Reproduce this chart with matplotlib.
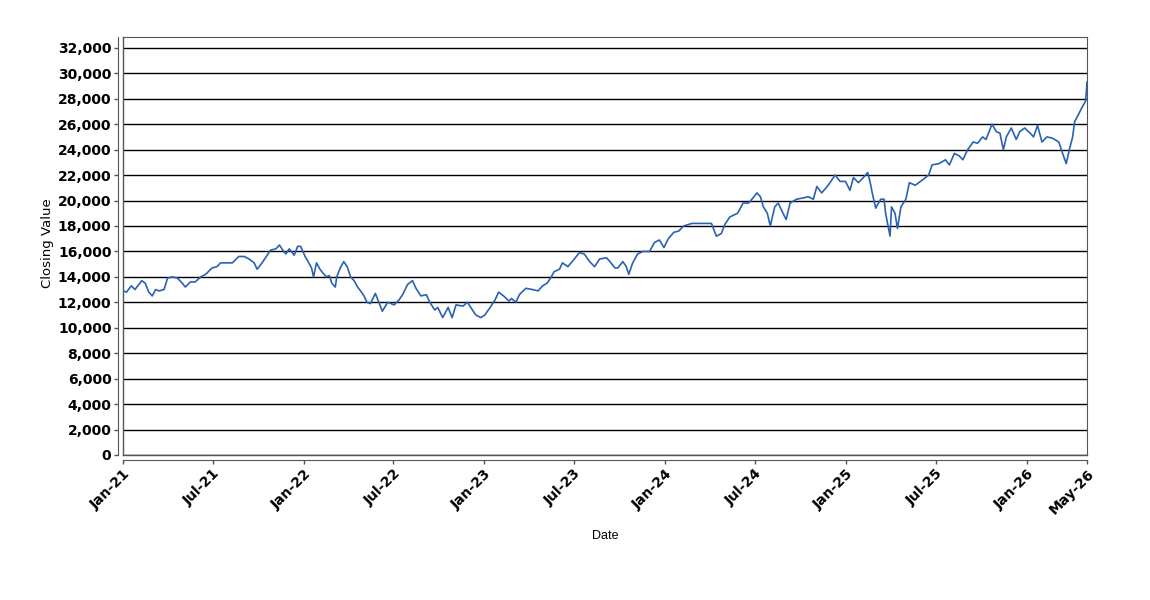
import pandas as pd
import matplotlib
matplotlib.use('Agg')
import matplotlib.pyplot as plt
import matplotlib.ticker as mticker
from matplotlib.lines import Line2D

# 데이터
dates = [
    '2021-01-01', '2021-01-08', '2021-01-18', '2021-01-25', '2021-02-08', '2021-02-15', '2021-02-22',
    '2021-03-01', '2021-03-08', '2021-03-15', '2021-03-25', '2021-04-01', '2021-04-11', '2021-04-21',
    '2021-05-01', '2021-05-07', '2021-05-17', '2021-05-27', '2021-06-07', '2021-06-17', '2021-06-30',
    '2021-07-10', '2021-07-17', '2021-07-27', '2021-08-10', '2021-08-23', '2021-09-03', '2021-09-13',
    '2021-09-23', '2021-09-29', '2021-10-09', '2021-10-16', '2021-10-26', '2021-11-06', '2021-11-13',
    '2021-11-20', '2021-11-26', '2021-12-03', '2021-12-13', '2021-12-20', '2021-12-26',
    '2022-01-04', '2022-01-10', '2022-01-17', '2022-01-21', '2022-01-27', '2022-02-03', '2022-02-09',
    '2022-02-16', '2022-02-22', '2022-02-27', '2022-03-06', '2022-03-09', '2022-03-16', '2022-03-23',
    '2022-03-30', '2022-04-06', '2022-04-13', '2022-04-20', '2022-04-26', '2022-05-03', '2022-05-09',
    '2022-05-16', '2022-05-26', '2022-06-09', '2022-06-20', '2022-07-03', '2022-07-13', '2022-07-20',
    '2022-07-30', '2022-08-09', '2022-08-16', '2022-08-26', '2022-09-06', '2022-09-13', '2022-09-23',
    '2022-09-29', '2022-10-09', '2022-10-20', '2022-10-28', '2022-11-05', '2022-11-19', '2022-11-28',
    '2022-12-08', '2022-12-15', '2022-12-25',
    '2023-01-02', '2023-01-13', '2023-01-23', '2023-01-30', '2023-02-09', '2023-02-20', '2023-02-25',
    '2023-03-06', '2023-03-13', '2023-03-26', '2023-04-09', '2023-04-20', '2023-04-29', '2023-05-08',
    '2023-05-15', '2023-05-22', '2023-06-02', '2023-06-08', '2023-06-19', '2023-07-02', '2023-07-12',
    '2023-07-22', '2023-08-02', '2023-08-12', '2023-08-22', '2023-09-05', '2023-09-12', '2023-09-22',
    '2023-09-28', '2023-10-08', '2023-10-15', '2023-10-20', '2023-10-28', '2023-11-07', '2023-11-18',
    '2023-12-01', '2023-12-11', '2023-12-21', '2023-12-30',
    '2024-01-08', '2024-01-19', '2024-01-29', '2024-02-08', '2024-02-25', '2024-03-14', '2024-04-04',
    '2024-04-14', '2024-04-24', '2024-05-01', '2024-05-11', '2024-05-27', '2024-06-07', '2024-06-18',
    '2024-06-27', '2024-07-05', '2024-07-12', '2024-07-18', '2024-07-26', '2024-08-01', '2024-08-10',
    '2024-08-17', '2024-08-23', '2024-09-02', '2024-09-10', '2024-09-23', '2024-10-06', '2024-10-17',
    '2024-10-27', '2024-11-03', '2024-11-13', '2024-11-26', '2024-12-10', '2024-12-20', '2024-12-31',
    '2025-01-09', '2025-01-16', '2025-01-26', '2025-02-05', '2025-02-14', '2025-02-19', '2025-02-23',
    '2025-03-02', '2025-03-12', '2025-03-19', '2025-03-22', '2025-03-31', '2025-04-03', '2025-04-10',
    '2025-04-15', '2025-04-22', '2025-05-02', '2025-05-09', '2025-05-21', '2025-06-04', '2025-06-17',
    '2025-06-24', '2025-07-08', '2025-07-21', '2025-07-29', '2025-08-08', '2025-08-18', '2025-08-25',
    '2025-09-04', '2025-09-15', '2025-09-24', '2025-10-04', '2025-10-11', '2025-10-23', '2025-11-01',
    '2025-11-08', '2025-11-15', '2025-11-21', '2025-12-01', '2025-12-11', '2025-12-18', '2025-12-28',
    '2026-01-08', '2026-01-15', '2026-01-23', '2026-02-01', '2026-02-11', '2026-02-22', '2026-03-07',
    '2026-03-12', '2026-03-22', '2026-03-29', '2026-04-04', '2026-04-08', '2026-04-15', '2026-04-22',
    '2026-04-27', '2026-04-30', '2026-05-02', '2026-05-03',
]

closing = [
    12900, 12800, 13300, 13000, 13700, 13500, 12800,
    12500, 13000, 12900, 13000, 13900, 14000, 13900,
    13500, 13200, 13600, 13600, 14000, 14200, 14700,
    14800, 15100, 15100, 15100, 15600, 15600, 15400,
    15100, 14600, 15100, 15500, 16100, 16200, 16500,
    16100, 15800, 16200, 15700, 16400, 16400,
    15600, 15200, 14700, 14000, 15100, 14600, 14300,
    14000, 14100, 13500, 13200, 14000, 14700, 15200,
    14800, 14000, 13700, 13200, 12900, 12500, 12000,
    11900, 12700, 11300, 12000, 11800, 12200, 12600,
    13400, 13700, 13100, 12500, 12600, 12000, 11400,
    11600, 10800, 11600, 10800, 11800, 11700, 12000,
    11400, 11000, 10800,
    11000, 11600, 12200, 12800, 12500, 12100, 12300,
    12000, 12600, 13100, 13000, 12900, 13300, 13500,
    13900, 14400, 14600, 15100, 14800, 15400, 15900,
    15800, 15200, 14800, 15400, 15500, 15200, 14700,
    14700, 15200, 14800, 14200, 15100, 15800, 16000,
    16000, 16700, 16900, 16300,
    17000, 17500, 17600, 18000, 18200, 18200, 18200,
    17200, 17400, 18100, 18700, 19000, 19800, 19800,
    20200, 20600, 20300, 19500, 19000, 18000, 19500,
    19800, 19300, 18500, 19800, 20100, 20200, 20300,
    20100, 21100, 20600, 21200, 22000, 21500, 21500,
    20800, 21800, 21400, 21800, 22200, 21400, 20600,
    19400, 20100, 20100, 19000, 17200, 19500, 19000,
    17800, 19500, 20100, 21400, 21200, 21600, 22000,
    22800, 22900, 23200, 22800, 23700, 23500, 23200,
    24000, 24600, 24500, 25000, 24800, 26000, 25400,
    25300, 24000, 25000, 25700, 24800, 25400, 25700,
    25300, 25000, 25900, 24600, 25000, 24900, 24600,
    24000, 22900, 24100, 25000, 26200, 26700, 27250,
    27600, 27800, 28700, 29300,
]

tick_dates = ['2021-01-01', '2021-07-01', '2022-01-01', '2022-07-01', '2023-01-01', '2023-07-01',
              '2024-01-01', '2024-07-01', '2025-01-01', '2025-07-01', '2026-01-01', '2026-05-03']
tick_labels = ['Jan-21', 'Jul-21', 'Jan-22', 'Jul-22', 'Jan-23', 'Jul-23',
               'Jan-24', 'Jul-24', 'Jan-25', 'Jul-25', 'Jan-26', 'May-26']

x = pd.to_datetime(dates)
xt = pd.to_datetime(tick_dates)

# 그림 설정
fig = plt.figure(figsize=(11.5, 6), dpi=100)
ax = fig.add_axes([123 / 1150, 1 - 455 / 600, 964 / 1150, 418 / 600])

ax.plot(x, closing, color='#2a62b2', linewidth=1.2)

ax.set_xlim(xt[0], xt[-1])
ax.set_ylim(0, 32850)
ax.set_yticks(range(0, 32001, 2000))
ax.yaxis.set_major_formatter(mticker.FuncFormatter(lambda v, p: f'{int(v):,}'))
ax.set_xticks(xt)
ax.xaxis.set_major_formatter(mticker.FixedFormatter(tick_labels))

ax.grid(axis='y', color='black', linewidth=1)
ax.set_axisbelow(True)

frame = '#555555'
for s in ['top', 'right']:
    ax.spines[s].set_color(frame)
for s in ['left', 'bottom']:
    ax.spines[s].set_position(('outward', 3.3))
    ax.spines[s].set_color(frame)
# 플롯 영역 테두리 (왼쪽/아래)
ax.add_line(Line2D([0, 0], [0, 1], transform=ax.transAxes, color=frame, linewidth=1, clip_on=False))
ax.add_line(Line2D([0, 1], [0, 0], transform=ax.transAxes, color=frame, linewidth=1, clip_on=False))

ax.tick_params(axis='both', length=3, width=1, color=frame, labelsize=10, pad=2)
fig.canvas.draw()
for lab in ax.get_yticklabels():
    lab.set_fontweight('bold')
for lab in ax.get_xticklabels():
    lab.set_fontweight('bold')
    lab.set_rotation(45)
    lab.set_ha('right')
    lab.set_va('top')
    lab.set_rotation_mode('anchor')

fig.text(47 / 1150, 1 - 243 / 600, 'Closing Value', rotation=90, ha='center', va='center', fontsize=9.5)
fig.text(605 / 1150, 1 - 536 / 600, 'Date', ha='center', va='center', fontsize=9, family='Liberation Sans')

fig.savefig('out.png', dpi=100)
